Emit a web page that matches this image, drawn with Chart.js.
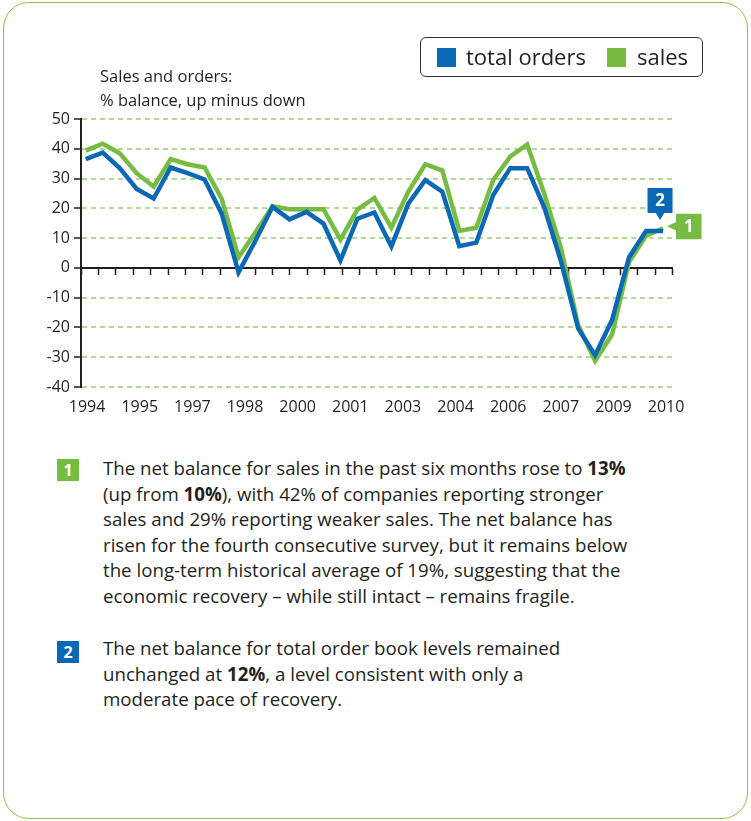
<!DOCTYPE html>
<html>
<head>
<meta charset="utf-8">
<script src="https://cdn.jsdelivr.net/npm/chart.js@4.4.0/dist/chart.umd.min.js"></script>
<style>
  body { margin: 0; background: #fff; font-family: 'Open Sans', sans-serif; color: #231f20; }
  .card { position: absolute; left: 3px; top: 2px; width: 743px; height: 815px; border: 1.5px solid #8cc63f; border-radius: 26px; }
  #chartWrap { position: absolute; left: 0; top: 0; width: 751px; height: 430px; }
  .title { position: absolute; left: 100px; top: 64px; font-size: 16.5px; line-height: 24px; white-space: nowrap; }
  .legend { position: absolute; left: 420px; top: 37px; width: 281px; height: 38px; border: 1.5px solid #333; border-radius: 6px; font-size: 22px; }
  .legend span { position: absolute; top: 3px; white-space: nowrap; }
  .legend i { position: absolute; top: 10px; width: 19px; height: 19px; }
  .note { position: absolute; left: 103px; font-size: 18.7px; line-height: 25.6px; white-space: nowrap; }
  .mark { position: absolute; left: 57px; width: 22px; height: 22px; color: #fff; font-weight: bold; font-size: 16px; line-height: 22px; text-align: center; }
</style>
</head>
<body>
<div class="card"></div>
<div id="chartWrap"><canvas id="salesOrdersChart"></canvas></div>
<div class="title">Sales and orders:<br>% balance, up minus down</div>
<div class="legend">
  <i style="left:16px;background:#0a68b4"></i><span style="left:45px">total orders</span>
  <i style="left:186px;background:#76bc43"></i><span style="left:216px">sales</span>
</div>

<div class="mark" style="top:459px;background:#76bc43">1</div>
<div class="note" style="top:455px">
The net balance for sales in the past six months rose to <b>13%</b><br>
(up from <b>10%</b>), with 42% of companies reporting stronger<br>
sales and 29% reporting weaker sales. The net balance has<br>
risen for the fourth consecutive survey, but it remains below<br>
the long-term historical average of 19%, suggesting that the<br>
economic recovery – while still intact – remains fragile.
</div>

<div class="mark" style="top:641px;background:#0a68b4">2</div>
<div class="note" style="top:635px">
The net balance for total order book levels remained<br>
unchanged at <b>12%</b>, a level consistent with only a<br>
moderate pace of recovery.
</div>

<script>
const yearLabels = ['1994', '1995', '1997', '1998', '2000', '2001', '2003', '2004', '2006', '2007', '2009', '2010'];
const totalOrders = [36.5, 38.7, 33.5, 26.5, 23.3, 33.7, 31.8, 29.7, 18.3, -1.5, 9.2, 20.5, 16.3, 18.8, 14.9, 2.5, 16.5, 18.6,
    7.2, 21.6, 29.5, 25.6, 7.3, 8.5, 24.5, 33.5, 33.5, 20.4, 2, -20.3, -29.3, -17.5, 3.6, 12.4, 12.4];
const sales = [39.4, 41.7, 38.5, 31.8, 27.3, 36.5, 34.8, 33.7, 23.3, 3.6, 12, 20.7, 19.7, 19.7, 19.7, 9.5, 19.6, 23.5,
    13.5, 25.6, 34.8, 32.7, 12.4, 13.5, 29.5, 37.4, 41.4, 25, 6.5, -19.2, -31.2, -22.4, 2, 10.8, 13.3];

const BLUE = '#0a68b4';
const GREEN = '#76bc43';
const xMin = -0.28, xMax = 34.57;
const yearStart = 0.08, yearStep = 3.1;

function toPoints(values) {
    return values.map((v, i) => ({ x: i, y: v }));
}

// numbered callouts next to the last point of each line
const calloutPlugin = {
    id: 'callouts',
    afterDatasetsDraw(chart) {
        const ctx = chart.ctx;
        const blue = chart.getDatasetMeta(0).data[totalOrders.length - 1];
        const green = chart.getDatasetMeta(1).data[sales.length - 1];
        ctx.save();
        ctx.font = 'bold 17px "Open Sans"';
        ctx.textAlign = 'center';
        ctx.textBaseline = 'middle';

        // 2 - box above the orders line, pointer down
        let cx = blue.x - 3, tip = blue.y - 11;
        ctx.fillStyle = BLUE;
        ctx.fillRect(cx - 12.5, tip - 32, 25, 25);
        ctx.beginPath();
        ctx.moveTo(cx - 4.5, tip - 7.5);
        ctx.lineTo(cx + 4.5, tip - 7.5);
        ctx.lineTo(cx, tip);
        ctx.fill();
        ctx.fillStyle = '#fff';
        ctx.fillText('2', cx, tip - 19);

        // 1 - box right of the sales line, pointer left
        let tx = green.x + 4, cy = green.y - 2;
        ctx.fillStyle = GREEN;
        ctx.fillRect(tx + 9, cy - 12.5, 25.5, 25.5);
        ctx.beginPath();
        ctx.moveTo(tx + 9.5, cy - 4.5);
        ctx.lineTo(tx + 9.5, cy + 4.5);
        ctx.lineTo(tx, cy);
        ctx.fill();
        ctx.fillStyle = '#fff';
        ctx.fillText('1', tx + 21.75, cy + 0.5);
        ctx.restore();
    }
};

const ctx = document.getElementById('salesOrdersChart');

new Chart(ctx, {
    type: 'line',
    data: {
        datasets: [{
            label: 'total orders',
            data: toPoints(totalOrders),
            borderColor: BLUE,
            borderWidth: 4.5,
            pointRadius: 0,
            borderJoinStyle: 'miter',
            tension: 0
        }, {
            label: 'sales',
            data: toPoints(sales),
            borderColor: GREEN,
            borderWidth: 4.5,
            pointRadius: 0,
            borderJoinStyle: 'miter',
            tension: 0
        }]
    },
    options: {
        responsive: true,
        maintainAspectRatio: false,
        animation: false,
        layout: {
            padding: { left: 0, top: 119, right: 78.3, bottom: 0 }
        },
        plugins: {
            legend: { display: false },
            tooltip: { enabled: false }
        },
        scales: {
            x: {
                type: 'linear',
                display: false,
                min: xMin,
                max: xMax
            },
            xTicks: {
                type: 'linear',
                axis: 'x',
                position: { y: 0 },
                min: 0,
                max: 34,
                ticks: { display: false, stepSize: 1 },
                grid: {
                    drawOnChartArea: false,
                    tickLength: 6,
                    tickColor: '#231f20',
                    tickWidth: 1.5
                },
                border: { color: '#231f20', width: 2 }
            },
            xYears: {
                type: 'linear',
                axis: 'x',
                position: 'bottom',
                min: xMin,
                max: xMax,
                grid: { display: false, drawTicks: false },
                border: { display: false },
                afterBuildTicks: (scale) => {
                    scale.ticks = yearLabels.map((_, n) => ({ value: yearStart + n * yearStep }));
                },
                afterFit: (scale) => { scale.height = 43; },
                ticks: {
                    autoSkip: false,
                    maxRotation: 0,
                    padding: 11,
                    color: '#231f20',
                    font: { family: 'Open Sans', size: 16 },
                    callback: (value, index) => yearLabels[index]
                }
            },
            y: {
                min: -40,
                max: 50,
                afterFit: (scale) => { scale.width = 81; },
                ticks: {
                    stepSize: 10,
                    padding: 4,
                    color: '#231f20',
                    font: { family: 'Open Sans', size: 16 }
                },
                grid: {
                    color: (c) => c.tick && c.tick.value === 0 ? 'rgba(0,0,0,0)' : '#b3da95',
                    lineWidth: 2,
                    tickLength: 7,
                    tickColor: '#231f20',
                    tickWidth: 1.5
                },
                border: { color: '#231f20', width: 2, dash: [5, 4] }
            }
        }
    },
    plugins: [calloutPlugin]
});
</script>
</body>
</html>
